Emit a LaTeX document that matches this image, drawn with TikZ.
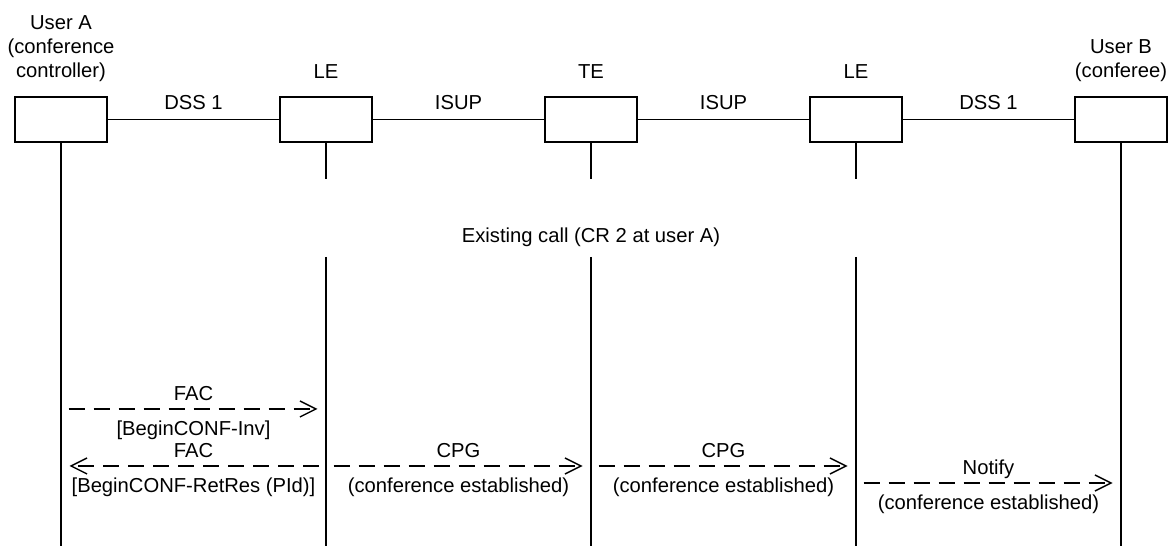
\documentclass[tikz,border=0pt]{standalone}
\usepackage{fontspec}
\setmainfont{Liberation Sans}
\usetikzlibrary{arrows.meta}

\begin{document}
\begin{tikzpicture}[font=\fontsize{11.5}{13.7}\selectfont, line width=0.8pt]
  \tikzstyle{entity} = [rectangle, draw, minimum width=1.84cm, minimum height=0.9cm, inner sep=0pt]
  \tikzstyle{hdr} = [align=center, inner sep=2pt]
  \tikzstyle{lbl} = [text height=8.5pt, text depth=2.5pt, inner sep=1pt]
  \tikzstyle{msg} = [dash pattern=on 0.32cm off 0.18cm, -{Straight Barb[length=0.32cm, width=0.32cm]},
                                    shorten <=0.15cm, shorten >=0.17cm]
\useasboundingbox (0,0) rectangle (23.46,-10.92);
% entities
\node[entity, label={[hdr, yshift=6pt]above:User A\\(conference\\controller)}] (usera) at (1.22,-2.39) {};
\node[entity, right of=usera, xshift=4.3cm, label={[hdr, yshift=8pt]above:LE}] (le1) {};
\node[entity, right of=le1, xshift=4.3cm, label={[hdr, yshift=8pt]above:TE}] (te) {};
\node[entity, right of=te, xshift=4.3cm, label={[hdr, yshift=8pt]above:LE}] (le2) {};
\node[entity, right of=le2, xshift=4.3cm, label={[hdr, yshift=6pt]above:User B\\(conferee)}] (userb) {};
\draw (usera) -- node[above=2pt]{DSS 1} (le1);
\draw (le1) -- node[above=2pt]{ISUP} (te);
\draw (te) -- node[above=2pt]{ISUP} (le2);
\draw (le2) -- node[above=2pt]{DSS 1} (userb);
% lifelines
\coordinate (brk) at (0,-3.58);
\coordinate (rst) at (0,-5.14);
\coordinate (bot) at (0,-10.92);
\draw (usera.south) -- (usera |- bot);
\draw (userb.south) -- (userb |- bot);
\foreach \n in {le1,te,le2} {
  \draw (\n.south) -- (\n |- brk);
  \draw (\n |- rst) -- (\n |- bot);
}
\node (existing) at (te |- 0,-4.75) {Existing call (CR 2 at user A)};
% messages
\coordinate (m1) at (0,-8.18);
\coordinate (m2) at (0,-9.32);
\coordinate (m3) at (0,-9.66);
\draw[msg] (usera |- m1) -- node[lbl, above=1pt]{FAC} node[lbl, below=5pt]{[BeginCONF-Inv]} (le1 |- m1);
\draw[msg] (le1 |- m2) -- node[lbl, above=1pt]{FAC} node[lbl, below=5pt]{[BeginCONF-RetRes (PId)]} (usera |- m2);
\draw[msg] (le1 |- m2) -- node[lbl, above=1pt]{CPG} node[lbl, below=5pt]{(conference established)} (te |- m2);
\draw[msg] (te |- m2) -- node[lbl, above=1pt]{CPG} node[lbl, below=5pt]{(conference established)} (le2 |- m2);
\draw[msg] (le2 |- m3) -- node[lbl, above=1pt]{Notify} node[lbl, below=5pt]{(conference established)} (userb |- m3);
\end{tikzpicture}
\end{document}
